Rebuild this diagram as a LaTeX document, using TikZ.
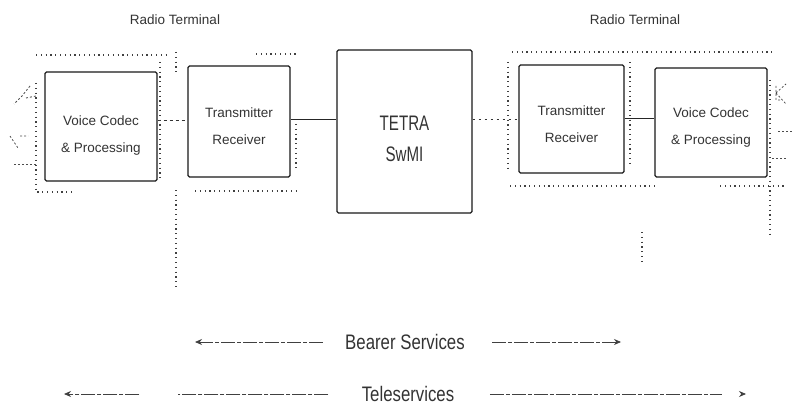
\documentclass[tikz,border=0pt]{standalone}
\usepackage{fontspec}
\setmainfont{Liberation Sans}
\newfontfamily\narrowsans[FakeStretch=0.8]{Liberation Sans}
\newfontfamily\tallsans[FakeStretch=0.72]{Liberation Sans}
\usetikzlibrary{arrows.meta}
\begin{document}
\begin{tikzpicture}[x=1pt,y=-1pt,
  every node/.style={text=black!80},
  blockbox/.style={draw=black!90, line width=1.3pt, rounded corners=1.5pt,
    align=center, inner sep=0pt, text depth=0pt},
  blocktext/.style={font=\fontsize{13.5}{27}\selectfont},
  frameline/.style={draw=black!75, line width=1.1pt, dash pattern=on 1.2pt off 3.6pt},
  link/.style={draw=black!85, line width=1pt},
  dashlink/.style={draw=black!80, line width=1pt, dash pattern=on 3pt off 3pt},
  servarrow/.style={draw=black!75, line width=0.8pt, dash pattern=on 14pt off 2pt on 4pt off 2pt},
  tip/.style={-{Stealth[length=7pt,width=6pt]}},
  termlabel/.style={font=\fontsize{13.5}{16}\selectfont},
  servlabel/.style={font=\narrowsans\fontsize{21}{24}\selectfont}]
\useasboundingbox (0,0) rectangle (792,409);

% titles of the two radio terminals
\node[termlabel] (rtL) at (175,20) {Radio Terminal};
\node[termlabel] (rtR) at (635,20) {Radio Terminal};

% functional blocks
\node[blockbox, minimum width=112, minimum height=109] (vcL) at (101,126.5) {};
\node[blockbox, minimum width=102, minimum height=111] (trL) at (239,121.5) {};
\node[blockbox, minimum width=135, minimum height=163] (swmi) at (404.5,131.5) {};
\node[blockbox, minimum width=105, minimum height=108] (trR) at (571.5,119) {};
\node[blockbox, minimum width=112, minimum height=109] (vcR) at (711,122.5) {};

% block captions (yshift is a canvas shift: negative moves down)
\node[blocktext, align=center] (vcLt) at ([yshift=-9]vcL.center) {Voice Codec\\\& Processing};
\node[blocktext, align=center] (trLt) at ([yshift=-5]trL.center) {Transmitter\\Receiver};
\node[font=\tallsans\fontsize{21}{31}\selectfont, align=center] (swmit) at ([yshift=-7]swmi.center) {TETRA\\SwMI};
\node[blocktext, align=center] (trRt) at ([yshift=-5]trR.center) {Transmitter\\Receiver};
\node[blocktext, align=center] (vcRt) at ([yshift=-5]vcR.center) {Voice Codec\\\& Processing};

% links between the blocks
\draw[dashlink] (vcL.east |- 0,121) -- (trL.west |- 0,121);
\draw[link] (trL.east |- 0,120) -- (swmi.west |- 0,120);
\draw[dashlink, dash pattern=on 2pt off 4pt] (swmi.east |- 0,120) -- (trR.west |- 0,120);
\draw[link] (trR.east |- 0,119) -- (vcR.west |- 0,119);

% dotted outlines of the left terminal
\draw[frameline] (36,55) -- (166,55);
\draw[frameline] (36,83) -- (36,192) -- (75,192);
\draw[frameline] (160,62) -- (160,182);
\draw[frameline] (176,52) -- (176,72);
\draw[frameline] (176,190) -- (176,290);
\draw[frameline] (256,54) -- (296,54);
\draw[frameline] (195,191) -- (298,191);
\draw[frameline] (296,124) -- (296,170);

% dotted outlines of the right terminal
\draw[frameline] (512,52) -- (776,52);
\draw[frameline] (508,62) -- (508,168);
\draw[frameline] (510,186) -- (656,186);
\draw[frameline] (720,186) -- (786,186);
\draw[frameline] (630,62) -- (630,166);
\draw[frameline] (642,232) -- (642,262);
\draw[frameline] (770,80) -- (770,235);

% earpiece and mouthpiece marks at the outer ends
\draw[black!70, line width=0.8pt, dash pattern=on 2pt off 2pt] (30,86) -- (22,96) -- (14,104);
\draw[black!70, line width=0.8pt, dash pattern=on 2pt off 2pt] (26,98) -- (36,96);
\draw[black!70, line width=0.8pt, dash pattern=on 2pt off 2pt] (10,136) -- (18,148) (20,136) -- (28,136);
\draw[black!70, line width=0.8pt, dash pattern=on 2pt off 2pt] (14,164) -- (36,164);
\draw[black!70, line width=0.8pt, dash pattern=on 2pt off 2pt] (776,86) -- (776,100) -- (782,100)
  (776,93) -- (786,84) (776,93) -- (786,104);
\draw[black!70, line width=0.8pt, dash pattern=on 2pt off 2pt] (778,131) -- (792,131);
\draw[black!70, line width=0.8pt, dash pattern=on 2pt off 2pt] (772,158) -- (786,158);

% service scopes
\node[servlabel] (bearer) at (405,342) {Bearer Services};
\node[servlabel] (tele) at (408,394) {Teleservices};
\coordinate (bL) at (195,342);
\coordinate (bR) at (621,342);
\coordinate (tL) at (64,394);
\coordinate (tR) at (746,394);
\draw[servarrow, tip] ([xshift=-19]bearer.west) -- (bL);
\draw[servarrow, tip] ([xshift=24]bearer.east) -- (bR);
\draw[servarrow] ([xshift=-30]tele.west) -- ([xshift=-180]tele.west);
\draw[servarrow, tip] ([xshift=-219]tele.west) -- (tL);
\draw[servarrow] ([xshift=32]tele.east) -- ([xshift=264]tele.east);
\draw[draw=black!75, line width=0.8pt, tip] ([xshift=284]tele.east) -- (tR);
\end{tikzpicture}
\end{document}
